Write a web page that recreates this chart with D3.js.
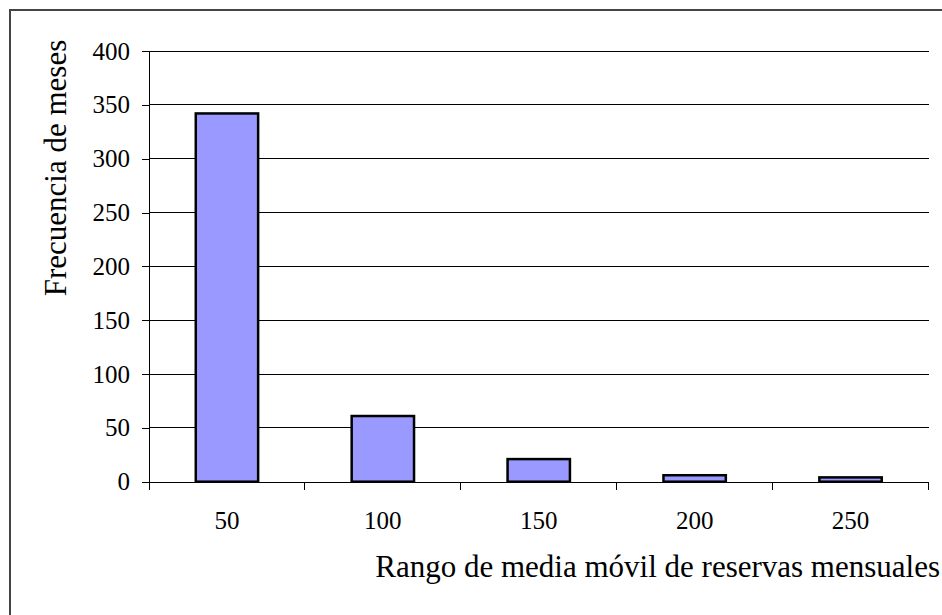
<!DOCTYPE html>
<html><head><meta charset="utf-8">
<script src="https://cdn.jsdelivr.net/npm/d3@7"></script>
<style>body{margin:0;background:#fff}svg{display:block}</style>
</head><body>
<svg id="c" width="942" height="615"></svg>
<script>
const categories = ["50","100","150","200","250"];
const values = [342, 61, 21, 6, 4];
const yTicks = [0,50,100,150,200,250,300,350,400];
const yTitle = "Frecuencia de meses";
const xTitle = "Rango de media móvil de reservas mensuales";

const svg = d3.select("#c");
const font = "'Liberation Serif','Times New Roman',serif";
const m = {left:149, right:928.5, top:51, bottom:481.7};

// outer border
svg.append("path").attr("d","M10,615 V10 H942").attr("fill","none").attr("stroke","#444").attr("stroke-width",2);

const x = d3.scaleBand().domain(categories).range([m.left, m.right]).paddingInner(0).paddingOuter(0);
const y = d3.scaleLinear().domain([0,400]).range([m.bottom, m.top]);

// gridlines
svg.append("g").selectAll("line").data(yTicks.filter(d=>d>0)).join("line")
  .attr("x1",m.left).attr("x2",m.right).attr("y1",d=>y(d)).attr("y2",d=>y(d))
  .attr("stroke","#000").attr("stroke-width",1).attr("shape-rendering","crispEdges");

// y axis
const ya = svg.append("g").attr("transform",`translate(${m.left},0)`)
  .call(d3.axisLeft(y).tickValues(yTicks).tickSize(7).tickPadding(12));
ya.select(".domain").attr("stroke","#000").attr("shape-rendering","crispEdges");
ya.selectAll(".tick line").attr("stroke","#000").attr("shape-rendering","crispEdges");
ya.selectAll("text").attr("font-family",font).attr("font-size",25).attr("fill","#000");

// x axis
const xa = svg.append("g").attr("transform",`translate(0,${m.bottom})`)
  .call(d3.axisBottom(x).tickSize(0).tickPadding(30));
xa.select(".domain").attr("stroke","#000").attr("shape-rendering","crispEdges");
xa.selectAll("text").attr("font-family",font).attr("font-size",25).attr("fill","#000");
// category separator ticks
svg.append("g").selectAll("line").data(d3.range(categories.length+1)).join("line")
  .attr("x1",i=>m.left+i*x.bandwidth()).attr("x2",i=>m.left+i*x.bandwidth())
  .attr("y1",m.bottom).attr("y2",m.bottom+8).attr("stroke","#000").attr("shape-rendering","crispEdges");

// bars
const bw = x.bandwidth();
svg.append("g").selectAll("rect").data(values).join("rect")
  .attr("x",(d,i)=>x(categories[i])+bw*0.3)
  .attr("width",bw*0.4)
  .attr("y",d=>y(d)).attr("height",d=>y(0)-y(d))
  .attr("fill","#9999FF").attr("stroke","#000").attr("stroke-width",2.5);

// titles
svg.append("text").attr("x",940).attr("y",577).attr("text-anchor","end")
  .attr("font-family",font).attr("font-size",31).text(xTitle);
svg.append("text").attr("transform","translate(66,168) rotate(-90)").attr("text-anchor","middle")
  .attr("font-family",font).attr("font-size",31).text(yTitle);
</script>
</body></html>
